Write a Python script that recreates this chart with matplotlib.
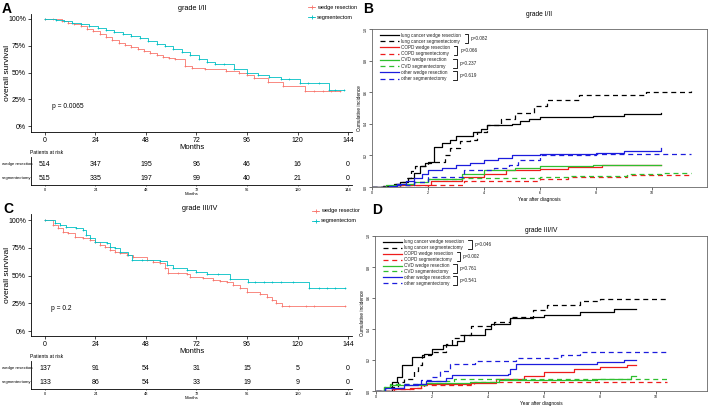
import numpy as np
import matplotlib
matplotlib.use("Agg")
from matplotlib import pyplot as plt
from matplotlib.lines import Line2D
from matplotlib.transforms import Bbox, TransformedBbox

plt.rcParams['font.family'] = ['Liberation Sans', 'DejaVu Sans']

W, H = 708, 407
RED = '#F8766D'
CYAN = '#00BFC4'

# ---------------- Kaplan-Meier data (months, survival) ----------------
a_wedge_t = [0, 4, 8, 11, 14, 17, 20, 23, 26, 29, 32, 35, 38, 41, 44, 47, 50, 53, 56, 59, 62,
             66.5, 70, 76, 86, 92, 96, 99.5, 106, 113, 123.5, 128, 132, 136, 140]
a_wedge_s = [1.0, 0.995, 0.98, 0.965, 0.95, 0.93, 0.91, 0.89, 0.86, 0.83, 0.80, 0.78, 0.76, 0.74,
             0.72, 0.70, 0.68, 0.66, 0.645, 0.635, 0.625, 0.56, 0.545, 0.53, 0.51, 0.50, 0.48,
             0.445, 0.41, 0.37, 0.33, 0.33, 0.33, 0.33, 0.33]
a_seg_t = [0, 5, 9, 13, 17, 21, 25, 29, 33, 37, 41, 45, 49, 53, 57, 61, 65, 69, 73, 77, 81, 85,
           90, 96, 101, 106.5, 112, 116, 121, 125, 130, 135, 138, 142]
a_seg_s = [1.0, 0.99, 0.98, 0.965, 0.95, 0.93, 0.915, 0.90, 0.88, 0.86, 0.84, 0.82, 0.795, 0.77,
           0.745, 0.72, 0.69, 0.66, 0.63, 0.60, 0.58, 0.58, 0.53, 0.50, 0.48, 0.46, 0.44, 0.44,
           0.40, 0.40, 0.40, 0.34, 0.34, 0.34]

c_wedge_t = [0, 3.9, 6.3, 8.7, 11.1, 14.3, 18.2, 21.4, 23.8, 26.1, 28.5, 30.9, 33.3, 35.6, 38.8,
             42, 48.3, 51.5, 54.6, 57, 58.6, 63, 67.3, 68.9, 75, 80, 83, 86.3, 89.5, 92.6, 95.8,
             102, 105.3, 107.7, 110, 112.5, 116, 124, 128, 142.5]
c_wedge_s = [1.0, 0.955, 0.925, 0.895, 0.88, 0.85, 0.835, 0.82, 0.80, 0.775, 0.76, 0.73, 0.715,
             0.70, 0.685, 0.67, 0.64, 0.625, 0.61, 0.565, 0.52, 0.52, 0.51, 0.49, 0.475, 0.46,
             0.45, 0.44, 0.415, 0.39, 0.355, 0.33, 0.31, 0.28, 0.25, 0.225, 0.225, 0.225, 0.225,
             0.225]
c_seg_t = [0, 4.7, 7.1, 10, 14.8, 18, 19.5, 21.4, 23.8, 29.3, 30.9, 33.3, 35.6, 39.6, 41.2, 46,
           54.6, 57.8, 61, 67.3, 72, 76.8, 82, 87.9, 96.6, 100, 104, 108, 112, 118, 125.5, 130,
           134, 138, 142.5]
c_seg_s = [1.0, 0.97, 0.955, 0.94, 0.93, 0.91, 0.865, 0.835, 0.80, 0.79, 0.76, 0.745, 0.71, 0.685,
           0.64, 0.64, 0.63, 0.595, 0.57, 0.55, 0.53, 0.51, 0.51, 0.47, 0.445, 0.445, 0.445,
           0.445, 0.445, 0.445, 0.39, 0.39, 0.39, 0.39, 0.39]

risk_times = [0, 24, 48, 72, 96, 120, 144]
a_risk_wedge = [514, 347, 195, 96, 46, 16, 0]
a_risk_seg = [515, 335, 197, 99, 40, 21, 0]
c_risk_wedge = [137, 91, 54, 31, 15, 5, 0]
c_risk_seg = [133, 86, 54, 33, 19, 9, 0]

# ---------------- cumulative incidence data (years, CI) ----------------
b_lung_w_t = [0, 0.4, 0.8, 1.0, 1.3, 1.5, 1.7, 1.9, 2.1, 2.2, 2.5, 2.8, 3.0, 3.6, 3.9, 4.1, 5.0,
              5.3, 5.6, 6.0, 7.9, 9.0, 10.3]
b_lung_w = [0, 0.005, 0.02, 0.03, 0.06, 0.09, 0.13, 0.15, 0.16, 0.255, 0.28, 0.30, 0.32, 0.35,
            0.37, 0.39, 0.40, 0.42, 0.43, 0.44, 0.45, 0.46, 0.47]
b_lung_s_t = [0, 0.4, 0.8, 1.0, 1.2, 1.4, 1.55, 2.0, 2.6, 2.8, 3.15, 3.5, 3.75, 4.1, 4.6, 5.1,
              5.8, 6.25, 7.4, 9.8, 11.4]
b_lung_s = [0, 0.005, 0.02, 0.03, 0.06, 0.10, 0.13, 0.16, 0.20, 0.245, 0.29, 0.30, 0.35, 0.39,
            0.43, 0.47, 0.51, 0.55, 0.585, 0.60, 0.61]
b_copd_w_t = [0, 1.0, 2.1, 3.2, 4.0, 4.8, 6.0, 7.0, 8.2, 10.3]
b_copd_w = [0, 0.01, 0.04, 0.065, 0.085, 0.105, 0.115, 0.125, 0.14, 0.14]
b_copd_s_t = [0, 2.0, 3.3, 4.35, 6.0, 7.0, 9.1, 11.4]
b_copd_s = [0, 0.01, 0.035, 0.04, 0.05, 0.065, 0.075, 0.075]
b_cvd_w_t = [0, 0.5, 1.0, 1.5, 2.0, 3.2, 4.0, 5.1, 6.0, 7.9, 10.3]
b_cvd_w = [0, 0.01, 0.02, 0.03, 0.05, 0.08, 0.105, 0.12, 0.135, 0.14, 0.14]
b_cvd_s_t = [0, 0.8, 1.5, 2.0, 3.2, 6.0, 7.0, 9.1, 10.3, 11.4]
b_cvd_s = [0, 0.01, 0.03, 0.05, 0.06, 0.065, 0.07, 0.085, 0.09, 0.09]
b_oth_w_t = [0, 0.6, 0.9, 1.2, 1.5, 1.8, 2.0, 2.5, 3.0, 3.5, 4.0, 4.5, 5.0, 5.5, 6.0, 8.0, 9.0,
             10.3]
b_oth_w = [0, 0.005, 0.02, 0.04, 0.06, 0.08, 0.11, 0.12, 0.14, 0.15, 0.17, 0.185, 0.20, 0.205,
           0.21, 0.215, 0.23, 0.245]
b_oth_s_t = [0, 0.8, 1.5, 2.0, 3.3, 4.35, 4.9, 5.2, 6.0, 8.0, 11.4]
b_oth_s = [0, 0.01, 0.03, 0.065, 0.105, 0.12, 0.14, 0.17, 0.205, 0.21, 0.21]

d_lung_w_t = [0, 0.57, 0.75, 0.93, 1.29, 1.7, 2.0, 2.4, 2.9, 3.13, 3.9, 4.1, 4.8, 5.6, 6.0, 7.3,
              8.5, 9.3]
d_lung_w = [0, 0.06, 0.09, 0.17, 0.22, 0.24, 0.27, 0.295, 0.32, 0.36, 0.40, 0.435, 0.47, 0.48,
            0.49, 0.51, 0.53, 0.53]
d_lung_s_t = [0, 0.5, 0.8, 1.0, 1.35, 1.5, 1.65, 1.95, 2.5, 2.7, 3.0, 3.4, 4.2, 4.8, 5.6, 6.1,
              7.3, 8.0, 10.4]
d_lung_s = [0, 0.025, 0.06, 0.08, 0.13, 0.165, 0.23, 0.25, 0.305, 0.34, 0.36, 0.42, 0.445, 0.475,
            0.52, 0.555, 0.58, 0.595, 0.595]
d_copd_w_t = [0, 0.63, 1.2, 1.6, 1.8, 3.4, 4.3, 5.3, 6.0, 7.06, 8.0, 8.96, 9.3]
d_copd_w = [0, 0.01, 0.02, 0.036, 0.047, 0.054, 0.08, 0.10, 0.12, 0.144, 0.155, 0.165, 0.165]
d_copd_s_t = [0, 0.5, 1.46, 1.7, 3.5, 10.4]
d_copd_s = [0, 0.015, 0.02, 0.04, 0.058, 0.058]
d_cvd_w_t = [0, 0.27, 0.5, 1.8, 3.37, 4.4, 7.9, 9.1, 9.3]
d_cvd_w = [0, 0.026, 0.04, 0.054, 0.058, 0.07, 0.08, 0.097, 0.097]
d_cvd_s_t = [0, 0.27, 0.5, 1.8, 2.8, 10.4]
d_cvd_s = [0, 0.026, 0.045, 0.062, 0.08, 0.08]
d_oth_w_t = [0, 0.33, 1.0, 1.5, 1.8, 2.5, 2.7, 4.7, 4.8, 5.0, 7.9, 8.85, 9.3]
d_oth_w = [0, 0.02, 0.036, 0.047, 0.065, 0.084, 0.105, 0.11, 0.144, 0.172, 0.187, 0.20, 0.20]
d_oth_s_t = [0, 0.33, 1.0, 1.6, 2.0, 2.3, 2.65, 3.55, 5.0, 6.6, 7.3, 10.4]
d_oth_s = [0, 0.02, 0.047, 0.07, 0.09, 0.13, 0.176, 0.194, 0.213, 0.23, 0.25, 0.25]

ci_labels = ['lung cancer wedge resection', 'lung cancer segmentectomy',
             'COPD wedge resection', 'COPD segmentectomy',
             'CVD wedge resection', 'CVD segmentectomy',
             'other wedge resection', 'other segmentectomy']
b_pvals = ['p=0.082', 'p=0.066', 'p=0.237', 'p=0.619']
d_pvals = ['p=0.046', 'p=0.002', 'p=0.761', 'p=0.541']

ci_colors = ['black', 'black', '#ee1c1c', '#ee1c1c', '#2fbf2f', '#2fbf2f', '#1c1cdd', '#1c1cdd']
ci_styles = ['-', (0, (4, 3))] * 4


def box(l, t, r, b):
    return [l / W, 1 - b / H, (r - l) / W, (b - t) / H]


fig = plt.figure(figsize=(W / 100, H / 100), dpi=100)

XL = (-6.65, 145.9)


def km_panel(rect, ylim, wt, ws, st, ss, pval, pval_xy):
    ax = fig.add_axes(rect)
    for t, s, col in [(wt, ws, RED), (st, ss, CYAN)]:
        ax.plot(t, s, drawstyle='steps-post', color=col, lw=0.6,
                marker='+', ms=1.6, mew=0.5)
    ax.set_xlim(*XL)
    ax.set_ylim(*ylim)
    ax.set_xticks(risk_times)
    ax.set_yticks([0, 0.25, 0.5, 0.75, 1.0])
    ax.set_yticklabels(['0%', '25%', '50%', '75%', '100%'])
    ax.tick_params(labelsize=5, length=2, width=0.5, pad=1.5)
    for s in ['top', 'right']:
        ax.spines[s].set_visible(False)
    for s in ['left', 'bottom']:
        ax.spines[s].set_linewidth(0.6)
    ax.set_xlabel('Months', fontsize=5.5, labelpad=0)
    ax.set_ylabel('overall survival', fontsize=6)
    ax.yaxis.set_label_coords(-20 / 321, 0.5)
    fig.text(pval_xy[0] / W, 1 - pval_xy[1] / H, pval, fontsize=4.8, va='center')
    return ax


def risk_table(rect, wedge, seg, head_y):
    tab = fig.add_axes(rect)
    tab.set_xlim(*XL)
    tab.set_ylim(0.5, 2.5)
    for x, n in zip(risk_times, wedge):
        tab.text(x, 2, str(n), ha='center', va='center', fontsize=5)
    for x, n in zip(risk_times, seg):
        tab.text(x, 1, str(n), ha='center', va='center', fontsize=5)
    tab.set_xticks(risk_times)
    tab.set_yticks([])
    tab.tick_params(labelsize=2.8, length=1, width=0.4, pad=1)
    for s in ['top', 'right']:
        tab.spines[s].set_visible(False)
    for s in ['left', 'bottom']:
        tab.spines[s].set_linewidth(0.6)
    tab.set_xlabel('Months', fontsize=3.1, labelpad=0)
    fig.text(30 / W, 1 - head_y / H, 'Patients at risk', fontsize=3.6, va='center')
    y_top = rect[1] + rect[3] * 0.75
    y_bot = rect[1] + rect[3] * 0.25
    fig.text(2 / W, y_top, 'wedge resection', fontsize=3.1, va='center')
    fig.text(2 / W, y_bot, 'segmentectomy', fontsize=3.1, va='center')


def km_legend(x0, yw, ys, clip_right):
    clip = TransformedBbox(Bbox([[0, 0], [clip_right / W, 1]]), fig.transFigure)
    for y, col, name in [(yw, RED, 'wedge resection'), (ys, CYAN, 'segmentectom')]:
        fy = 1 - y / H
        ln = Line2D([x0 / W, (x0 + 3.5) / W, (x0 + 7) / W], [fy] * 3, color=col, lw=0.6,
                    marker='+', markevery=[1], ms=2.5, mew=0.6, transform=fig.transFigure)
        fig.add_artist(ln)
        t = fig.text((x0 + 9) / W, fy, name, fontsize=4, va='center')
        t.set_clip_box(clip)
        t.set_clip_on(True)


# ---------- A ----------
km_panel(box(31, 13.6, 352, 132), (-0.055, 1.05), a_wedge_t, a_wedge_s, a_seg_t, a_seg_s,
         'p = 0.0065', (52, 106))
risk_table(box(31, 157, 352, 185), a_risk_wedge, a_risk_seg, 152)
km_legend(308, 7.3, 17.3, 360)
fig.text(192 / W, 1 - 8 / H, 'grade I/II', fontsize=5.2, ha='center', va='center')

# ---------- C ----------
km_panel(box(31, 214.5, 352, 336), (-0.045, 1.05), c_wedge_t, c_wedge_s, c_seg_t, c_seg_s,
         'p = 0.2', (51, 309))
risk_table(box(31, 361, 352, 389), c_risk_wedge, c_risk_seg, 356)
km_legend(312, 210.7, 220.7, 360)
fig.text(200 / W, 1 - 208 / H, 'grade III/IV', fontsize=5.2, ha='center', va='center')


# ---------- cumulative incidence panels ----------
def ci_panel(l, t, r, b, xlim, series, title, title_y, pvals, ent_y0, ent_dy, line_x,
             brackets):
    ax = fig.add_axes(box(l, t, r, b))
    for (xt, yv), col, ls in zip(series, ci_colors, ci_styles):
        ax.plot(xt, yv, drawstyle='steps-post', color=col, lw=0.9, linestyle=ls)
    ax.set_xlim(*xlim)
    ax.set_ylim(0, 1)
    ax.set_xticks([0, 2, 4, 6, 8, 10])
    ax.set_yticks([0, 0.2, 0.4, 0.6, 0.8, 1.0])
    ax.set_yticklabels(['0.0', '0.2', '0.4', '0.6', '0.8', '1.0'], rotation=90, va='center')
    ax.tick_params(labelsize=2.6, length=2, width=0.4, pad=1)
    for s in ax.spines.values():
        s.set_linewidth(0.6)
        s.set_color('#666666')
    ax.set_xlabel('Year after diagnosis', fontsize=3.4, labelpad=1)
    ax.set_ylabel('Cumulative incidence', fontsize=3.4, labelpad=1)
    fig.text((l + r) / 2 / W, 1 - title_y / H, title, fontsize=4.8, ha='center', va='center')

    w, h = r - l, b - t
    fx = lambda px: (px - l) / w
    fy = lambda py: 1 - (py - t) / h
    for i, (lab, col, ls) in enumerate(zip(ci_labels, ci_colors, ci_styles)):
        y = ent_y0 + ent_dy * i
        ax.plot([fx(line_x[0]), fx(line_x[1])], [fy(y)] * 2, transform=ax.transAxes,
                color=col, lw=0.9, linestyle=ls, clip_on=False)
        ax.text(fx(line_x[1] + 1.8), fy(y), lab, transform=ax.transAxes, fontsize=3.3,
                va='center', color='#222222')
    for k, (xv, pv) in enumerate(zip(brackets, pvals)):
        y1 = ent_y0 + ent_dy * 2 * k - 1.3
        y2 = ent_y0 + ent_dy * (2 * k + 1) + 1.3
        ax.plot([fx(xv - 3.5), fx(xv), fx(xv), fx(xv - 3.5)],
                [fy(y1), fy(y1), fy(y2), fy(y2)], transform=ax.transAxes,
                color='black', lw=0.6, clip_on=False)
        ax.text(fx(xv + 3), fy((y1 + y2) / 2), pv, transform=ax.transAxes, fontsize=3.4,
                va='center', color='#222222')
    return ax


b_series = [(b_lung_w_t, b_lung_w), (b_lung_s_t, b_lung_s), (b_copd_w_t, b_copd_w),
            (b_copd_s_t, b_copd_s), (b_cvd_w_t, b_cvd_w), (b_cvd_s_t, b_cvd_s),
            (b_oth_w_t, b_oth_w), (b_oth_s_t, b_oth_s)]
d_series = [(d_lung_w_t, d_lung_w), (d_lung_s_t, d_lung_s), (d_copd_w_t, d_copd_w),
            (d_copd_s_t, d_copd_s), (d_cvd_w_t, d_cvd_w), (d_cvd_s_t, d_cvd_s),
            (d_oth_w_t, d_oth_w), (d_oth_s_t, d_oth_s)]

ci_panel(372, 29, 707, 187, (0, 11.96), b_series, 'grade I/II', 15, b_pvals,
         35, 6.24, (380, 399), [468, 457.3, 456.7, 456.7])
ci_panel(375, 236, 707, 391, (-0.036, 11.82), d_series, 'grade III/IV', 230, d_pvals,
         241.7, 5.95, (383, 401.7), [471.7, 460, 456.7, 456.7])

# panel letters
for lab, x, y in [('A', 7, 9), ('B', 368, 9), ('C', 8, 209), ('D', 377, 210)]:
    fig.text(x / W, 1 - y / H, lab, fontsize=10, fontweight='bold', ha='center', va='center')

fig.savefig('out.png', dpi=100)
